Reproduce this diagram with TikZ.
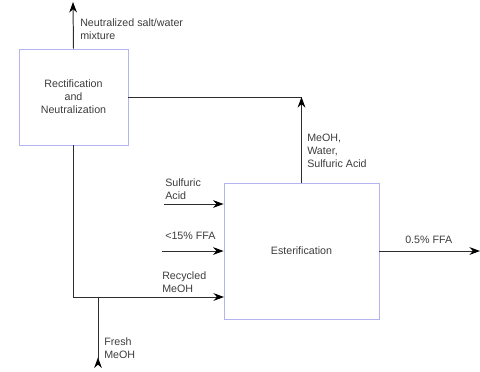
\documentclass[tikz,border=0pt]{standalone}
\usepackage{fontspec}
\setmainfont{Liberation Sans}
\usetikzlibrary{arrows.meta}
\definecolor{boxline}{RGB}{180,180,240}
\definecolor{ink}{RGB}{60,60,60}
\definecolor{wire}{RGB}{45,45,45}
\begin{document}
\begin{tikzpicture}[x=0.025cm, y=-0.025cm,
    every node/.style={font=\fontsize{7.6}{9.2}\selectfont, text=ink},
    block/.style={draw=boxline, line width=0.6pt, align=center, inner sep=0pt},
    lbl/.style={align=left, anchor=base west, inner sep=0pt},
    pipe/.style={draw=wire, line width=0.7pt},
    flow/.style={pipe, -{Stealth[length=7.5pt, width=5.5pt, black]}}]
    \useasboundingbox (0,0) rectangle (480,371);

    % Process blocks
    \node[block, minimum width=2.725cm, minimum height=2.4cm] (rec) at (73.5,97)
        {Rectification\\and\\Neutralization};
    \node[block, minimum width=3.875cm, minimum height=3.4cm] (est) at (301.5,251)
        {Esterification};

    % Free ends
    \coordinate (saltout) at (73,2);
    \coordinate (mix) at (301.5,97);
    \coordinate (recin) at (224,297);
    \coordinate (fresh) at (98,297);
    \coordinate (freshend) at (98,368);
    \coordinate (acidin) at (164,204);
    \coordinate (ffain) at (162,251);
    \coordinate (ffaout) at (480,251);

    % Streams
    \draw[flow] (rec.north) -- (saltout);
    \draw[pipe] (rec.east) -- (mix);
    \draw[flow] (est.north) -- (mix);
    \draw[flow] (rec.south) |- (recin);
    \draw[pipe, -{Stealth[length=7.5pt, width=5.5pt, black, reversed]}] (fresh) -- (freshend);
    \draw[flow] (acidin) -- (acidin -| est.west);
    \draw[flow] (ffain) -- (est.west);
    \draw[flow] (est.east) -- (ffaout);

    % Stream labels (anchored on the last line)
    \node[lbl] (saltlbl) at (80,39) {Neutralized salt/water\\mixture};
    \node[lbl] (mixlbl) at (307,167) {MeOH,\\Water,\\Sulfuric Acid};
    \node[lbl] (acidlbl) at (165,199) {Sulfuric\\Acid};
    \node[lbl] (ffalbl) at (165,239) {<15\% FFA};
    \node[lbl] (reclbl) at (162,292) {Recycled\\MeOH};
    \node[lbl] (freshlbl) at (104,358) {Fresh\\MeOH};
    \node[lbl] (outlbl) at (405,243) {0.5\% FFA};
\end{tikzpicture}
\end{document}
